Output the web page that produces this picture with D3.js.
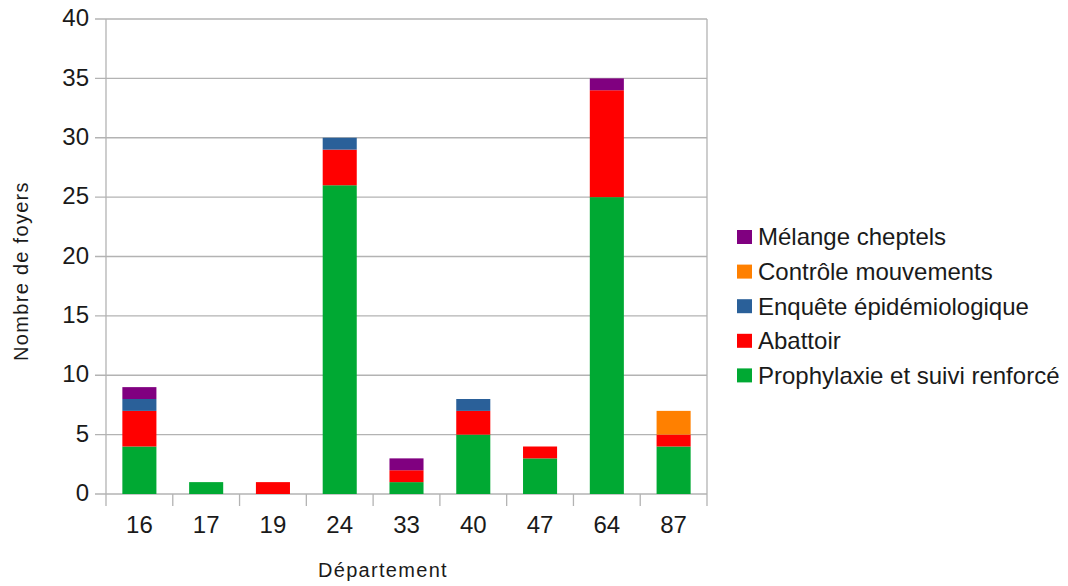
<!DOCTYPE html>
<html>
<head>
<meta charset="utf-8">
<script src="https://cdn.jsdelivr.net/npm/d3@7"></script>
<style>
	body { margin: 0; background: #fff; }
	svg { font-family: 'Liberation Sans', Arial, sans-serif; }
</style>
</head>
<body>
<svg id="chart" width="1068" height="586"></svg>
<script>
const departements = ['16', '17', '19', '24', '33', '40', '47', '64', '87'];
const series = ['Prophylaxie et suivi renforcé', 'Abattoir', 'Enquête épidémiologique', 'Contrôle mouvements', 'Mélange cheptels'];
const colors = ['#00a933', '#ff0000', '#2a6099', '#ff8000', '#800080'];
const prophylaxie = [4, 1, 0, 26, 1, 5, 3, 25, 4];
const abattoir = [3, 0, 1, 3, 1, 2, 1, 9, 1];
const enquete = [1, 0, 0, 1, 0, 1, 0, 0, 0];
const controle = [0, 0, 0, 0, 0, 0, 0, 0, 2];
const melange = [1, 0, 0, 0, 1, 0, 0, 1, 0];
const yTicks = [0, 5, 10, 15, 20, 25, 30, 35, 40];

const values = [prophylaxie, abattoir, enquete, controle, melange];
const rows = departements.map((d, i) => {
	const row = { dep: d };
	series.forEach((s, j) => { row[s] = values[j][i]; });
	return row;
});

const svg = d3.select('#chart');
const plotLeft = 106, plotRight = 707, plotTop = 19, plotBottom = 494;
const grid = '#b3b3b3';
const ink = '#1a1a1a';

const x = d3.scaleBand().domain(departements).range([plotLeft, plotRight]).paddingInner(0.49).paddingOuter(0.245);
const y = d3.scaleLinear().domain([0, 40]).range([plotBottom, plotTop]);

// Grid lines + y ticks
svg.append('g').selectAll('line').data(yTicks).enter().append('line')
	.attr('x1', plotLeft - 11).attr('x2', plotRight)
	.attr('y1', d => y(d)).attr('y2', d => y(d))
	.attr('stroke', grid).attr('stroke-width', 1.3);

svg.append('g').selectAll('text').data(yTicks).enter().append('text')
	.attr('x', 89).attr('y', d => y(d) - 1.5).attr('dy', '0.36em')
	.attr('text-anchor', 'end').attr('font-size', 24).attr('fill', ink)
	.text(d => d);

// Stacked bars
const stack = d3.stack().keys(series)(rows);
svg.append('g').selectAll('g').data(stack).enter().append('g')
	.attr('fill', (d, i) => colors[i])
	.selectAll('rect').data(d => d).enter().append('rect')
	.attr('x', d => x(d.data.dep)).attr('width', x.bandwidth())
	.attr('y', d => y(d[1])).attr('height', d => y(d[0]) - y(d[1]));

// Axes lines
svg.append('line').attr('x1', plotLeft).attr('x2', plotLeft).attr('y1', plotTop).attr('y2', plotBottom + 12)
	.attr('stroke', grid).attr('stroke-width', 1.3);
svg.append('line').attr('x1', plotRight).attr('x2', plotRight).attr('y1', plotTop).attr('y2', plotBottom + 12)
	.attr('stroke', grid).attr('stroke-width', 1.3);

// Category ticks at band boundaries
const step = x.step();
svg.append('g').selectAll('line').data(departements.slice(1)).enter().append('line')
	.attr('x1', (d, i) => plotLeft + step * (i + 1)).attr('x2', (d, i) => plotLeft + step * (i + 1))
	.attr('y1', plotBottom).attr('y2', plotBottom + 12)
	.attr('stroke', grid).attr('stroke-width', 1.3);

svg.append('g').selectAll('text').data(departements).enter().append('text')
	.attr('x', d => x(d) + x.bandwidth() / 2).attr('y', 533)
	.attr('text-anchor', 'middle').attr('font-size', 24).attr('fill', ink)
	.text(d => d);

// Axis titles
svg.append('text').attr('x', 383).attr('y', 577)
	.attr('text-anchor', 'middle').attr('font-size', 20).attr('letter-spacing', 1.3).attr('fill', ink)
	.text('Département');
svg.append('text').attr('transform', 'translate(28,271) rotate(-90)')
	.attr('text-anchor', 'middle').attr('font-size', 20).attr('letter-spacing', 1.3).attr('fill', ink)
	.text('Nombre de foyers');

// Legend (reverse order)
const legend = svg.append('g').selectAll('g').data(series.slice().reverse()).enter().append('g')
	.attr('transform', (d, i) => `translate(737,${237 + i * 34.6})`);
legend.append('rect').attr('x', 0).attr('y', -7).attr('width', 15).attr('height', 14)
	.attr('fill', (d, i) => colors[series.length - 1 - i]);
legend.append('text').attr('x', 21).attr('y', 0).attr('dy', '0.35em')
	.attr('font-size', 24).attr('fill', ink).text(d => d);
</script>
</body>
</html>
